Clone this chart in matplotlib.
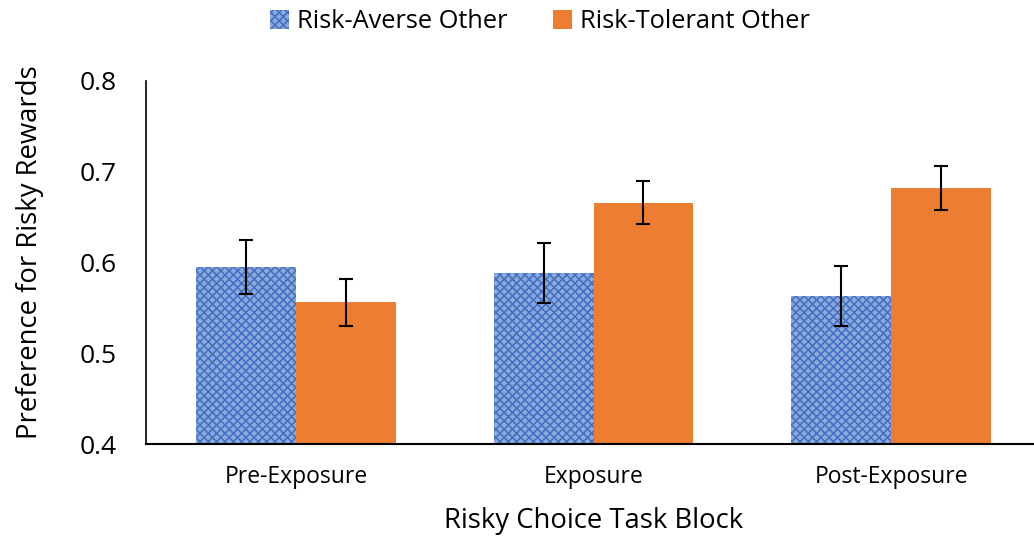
import matplotlib
matplotlib.use("Agg")
import matplotlib.pyplot as plt
import numpy as np

plt.rcParams['font.family'] = ['Open Sans', 'DejaVu Sans']
plt.rcParams['hatch.linewidth'] = 1.2

categories = ["Pre-Exposure", "Exposure", "Post-Exposure"]
series_names = ["Risk-Averse Other", "Risk-Tolerant Other"]
averse = [0.595, 0.588, 0.563]
averse_err = [0.030, 0.033, 0.033]
tolerant = [0.556, 0.666, 0.682]
tolerant_err = [0.026, 0.024, 0.024]
yticks = [0.4, 0.5, 0.6, 0.7, 0.8]

fig = plt.figure(figsize=(10.34, 5.37), dpi=100)
ax = fig.add_axes([146/1034, 1-444/537, 1-146/1034, (444-81)/537])

x = np.arange(len(categories))
w = 0.335
ax.bar(x - w/2, averse, w, color='#8EA9DB', edgecolor='#4472C4', linewidth=0,
       hatch='xxxx', label=series_names[0], zorder=2)
ax.bar(x + w/2, tolerant, w, color='#ED7D31', linewidth=0,
       label=series_names[1], zorder=2)
ax.errorbar(x - w/2, averse, yerr=averse_err, fmt='none', ecolor='black',
            elinewidth=1.5, capsize=5, capthick=1.5, zorder=3)
ax.errorbar(x + w/2, tolerant, yerr=tolerant_err, fmt='none', ecolor='black',
            elinewidth=1.5, capsize=5, capthick=1.5, zorder=3)

ax.set_ylim(0.4, 0.8)
ax.set_xlim(-0.504, 2.48)
ax.set_yticks(yticks)
ax.set_yticklabels([f"{v:.1f}" for v in yticks], fontsize=19)
ax.set_xticks(x)
ax.set_xticklabels(categories, fontsize=16.5)
ax.tick_params(axis='x', length=0, pad=15)
ax.tick_params(axis='y', length=0, pad=21)
for s in ['top', 'right']:
    ax.spines[s].set_visible(False)
ax.spines['left'].set_linewidth(1.2)
ax.spines['bottom'].set_linewidth(1.5)

ax.set_xlabel("Risky Choice Task Block", fontsize=19.8)
ax.set_ylabel("Preference for Risky Rewards", fontsize=19.8)
ax.xaxis.set_label_coords(0.5 + (594 - 590) / 888, -(521 - 444) / 363)
ax.xaxis.label.set_va('center')
ax.yaxis.set_label_coords((30 - 146) / 888, (537 - 252 - 93) / 363)
ax.yaxis.label.set_va('center')

fig.legend(loc='center', bbox_to_anchor=(540/1034, 1-22/537), ncol=2, frameon=False,
           fontsize=18.3, handlelength=0.75, handleheight=0.75, handletextpad=0.3,
           columnspacing=1.8)

fig.savefig("out.png", dpi=100)
